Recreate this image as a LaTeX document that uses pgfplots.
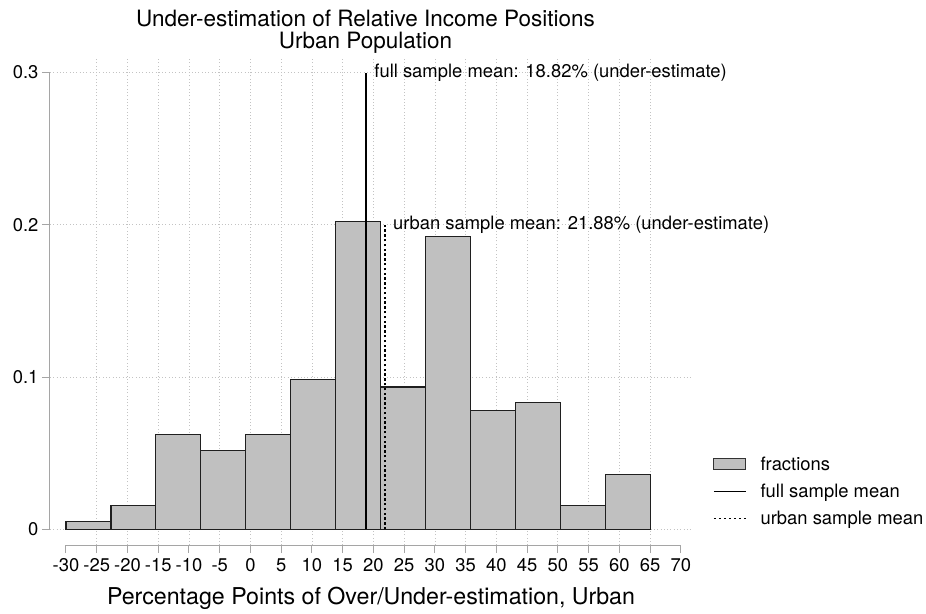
\documentclass[border=0pt]{standalone}
\usepackage{fontspec}
\setmainfont{TeX Gyre Heros}
\usepackage{pgfplots}
\usepackage{pgfplotstable}
\pgfplotsset{compat=1.18}

\definecolor{barfill}{RGB}{192,192,192}
\definecolor{axgray}{RGB}{165,165,165}
\definecolor{gridgray}{RGB}{195,195,195}

\pgfplotstableread{
x y
-30 0.0050
-22.6923 0.0155
-15.3846 0.0621
-8.0769 0.0516
-0.7692 0.0621
6.5385 0.0987
13.8462 0.2024
21.1538 0.0935
28.4615 0.1921
35.7692 0.0779
43.0769 0.0832
50.3846 0.0157
57.6923 0.0363
65.0 0.0363
}\histdata

\begin{document}
\begin{tikzpicture}
\begin{axis}[
  scale only axis, width=642pt, height=487.7pt,
  xmin=-32.6, xmax=71.8, ymin=-0.0102, ymax=0.31,
  axis lines=left,
  axis line style={-, axgray, line width=1pt},
  x axis line style={shorten <=16pt, shorten >=11pt},
  y axis line style={shorten <=15.5pt, shorten >=15.3pt},
  xtick={-30,-25,...,70}, ytick={0,0.1,0.2,0.3},
  minor xtick={-25,-20,...,65},
  yticklabels={0,0.1,0.2,0.3},
  tick align=outside, major tick length=8pt, minor tick length=0pt,
  tick style={axgray, line width=1pt},
  xmajorgrids=false, xminorgrids=true, ymajorgrids=true,
  major grid style={gridgray, dash pattern=on 0.9pt off 2.4pt, line width=0.9pt},
  minor grid style={gridgray, dash pattern=on 0.9pt off 2.4pt, line width=0.9pt},
  ticklabel style={font=\fontsize{18.4}{20}\selectfont, text=black},
  xticklabel style={yshift=-2pt},
  /pgf/number format/assume math mode=true,
  xlabel={Percentage Points of Over/Under-estimation, Urban},
  xlabel style={font=\fontsize{23.2}{25}\selectfont, yshift=-8pt},
  title={Under-estimation of Relative Income Positions\\Urban Population},
  title style={align=center, font=\fontsize{22.5}{22}\selectfont, at={(0.4914,1)}, anchor=south, yshift=-5.7pt},
  clip=false,
  legend style={at={(1,0)}, anchor=south west, xshift=18pt, yshift=15pt, draw=none, fill=none,
    font=\fontsize{18.4}{20}\selectfont, cells={anchor=west}, row sep=8pt,
    /tikz/every odd column/.append style={column sep=12pt}},
]
\addplot[ybar interval, fill=barfill, draw=black!88, line width=1.2pt,
  legend image code/.code={\draw[fill=barfill, draw=black!80, line width=1pt] (0pt,-5.5pt) rectangle (32pt,5.5pt);}]
  table[x=x,y=y]{\histdata};
\addlegendentry{fractions}
\addplot[black, line width=1.8pt,
  legend image code/.code={\draw[black, line width=1.4pt] (0pt,0pt) -- (32pt,0pt);}]
  coordinates {(18.82,0) (18.82,0.3)};
\addlegendentry{full sample mean}
\addplot[black, line width=2.3pt, dash pattern=on 2.4pt off 2.4pt,
  legend image code/.code={\draw[black, line width=1.2pt, dash pattern=on 2pt off 3pt] (0pt,0pt) -- (32pt,0pt);}]
  coordinates {(21.88,0) (21.88,0.2)};
\addlegendentry{urban sample mean}
\node[anchor=west, font=\fontsize{18.4}{20}\selectfont, inner sep=0pt, xshift=8pt] at (axis cs:18.82,0.3) {full sample mean: 18.82\% (under-estimate)};
\node[anchor=west, font=\fontsize{18.4}{20}\selectfont, inner sep=0pt, xshift=8pt] at (axis cs:21.88,0.2) {urban sample mean: 21.88\% (under-estimate)};
\end{axis}
\pgfresetboundingbox
\path[use as bounding box] ([shift={(-50pt,-68pt)}]current axis.south west) rectangle ([shift={(234pt,57.3pt)}]current axis.north east);
\end{tikzpicture}
\end{document}
